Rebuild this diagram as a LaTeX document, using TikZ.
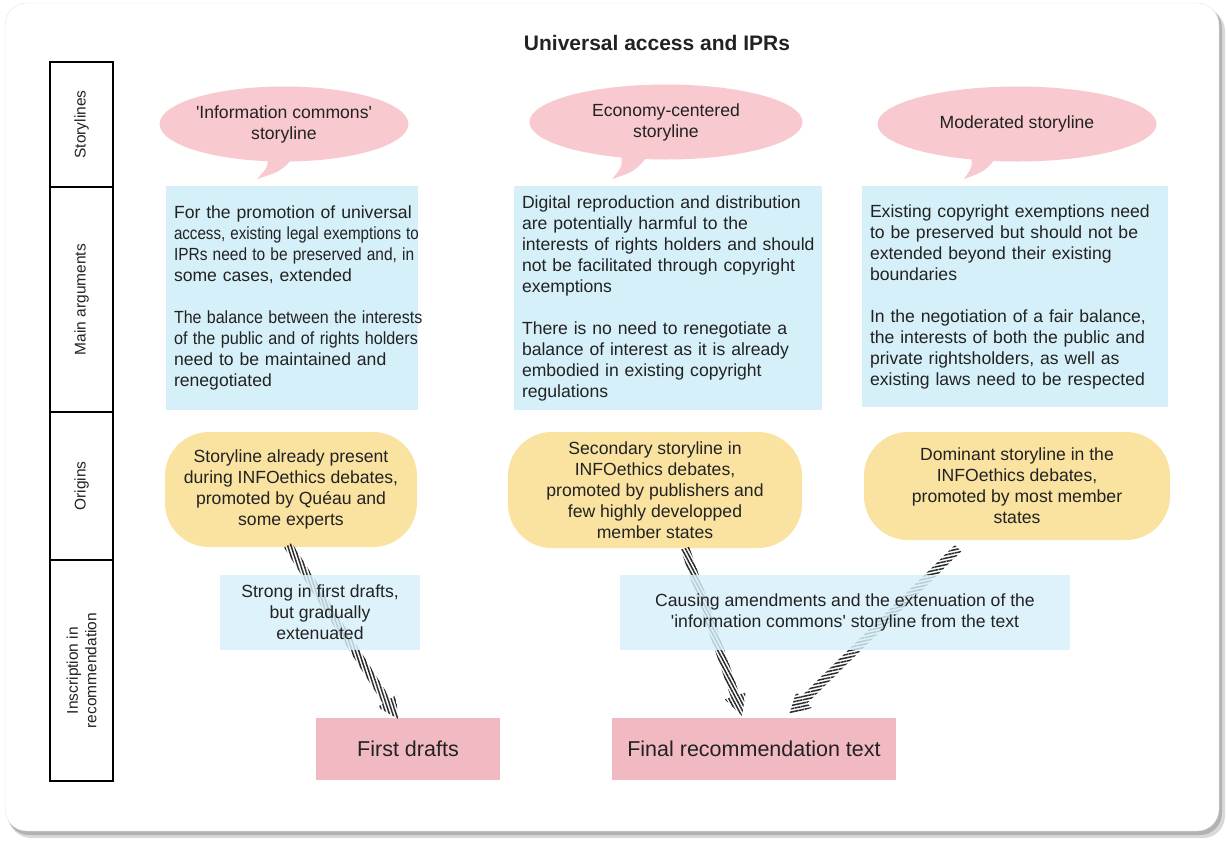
\documentclass[tikz,border=0pt]{standalone}
\usepackage{fontspec}
\usepackage{graphicx}
\setmainfont{Liberation Sans}
\usetikzlibrary{shapes.geometric,calc,patterns.meta}
\definecolor{bubblepink}{HTML}{F8C9CF}
\definecolor{boxpink}{HTML}{F1BAC3}
\definecolor{argblue}{HTML}{D6F0FA}
\definecolor{origyellow}{HTML}{FAE3A0}
\definecolor{txt}{HTML}{222222}
\definecolor{hatchcol}{HTML}{2A2A2A}
\newcommand{\myq}{\textquotesingle}
\newcommand{\sqz}[2]{\scalebox{#1}[1]{#2}}
\newcommand{\hatcharrow}[3]{%
  \coordinate (hc) at ($(#2)!21pt!(#1)$);
  \fill[pattern={Lines[angle=#3,distance=3.2pt,line width=1.5pt]},pattern color=hatchcol]
    ($(#1)!4.5pt!90:(#2)$) -- ($(hc)!4.5pt!90:(#2)$) -- ($(hc)!11pt!90:(#2)$) -- (#2)
    -- ($(hc)!11pt!-90:(#2)$) -- ($(hc)!4.5pt!-90:(#2)$) -- ($(#1)!4.5pt!-90:(#2)$) -- cycle;}
\begin{document}
\begin{tikzpicture}[x=1pt,y=-1pt,
  every node/.style={text=txt},
  body/.style={font=\fontsize{17.6}{21}\selectfont},
  lane/.style={draw=black,line width=1.3pt,inner sep=0pt,minimum height=63pt,align=center,
    font=\fontsize{15.5}{18.5}\selectfont,rotate=90},
  bubble/.style={ellipse,fill=bubblepink,inner sep=0pt,align=center,body},
  argbox/.style={rectangle,fill=argblue,inner xsep=8pt,inner ysep=0pt,align=left,body},
  origin/.style={rectangle,rounded corners=44pt,fill=origyellow,inner sep=0pt,align=center,body},
  insc/.style={rectangle,fill=argblue,fill opacity=0.82,text opacity=1,inner sep=0pt,align=center,body},
  result/.style={rectangle,fill=boxpink,inner sep=0pt,minimum height=62pt,font=\fontsize{21.5}{25}\selectfont},
  tail/.style={fill=bubblepink}]
\useasboundingbox (0,0) rectangle (1227,841);
% frame
\fill[gray!30,rounded corners=22pt] (9,9) rectangle (1225,838);
\fill[gray!60,rounded corners=22pt] (7,6) rectangle (1222,835);
\fill[white,rounded corners=22pt] (5,3) rectangle (1219,831);
\draw[gray!20,rounded corners=22pt] (5,3) rectangle (1219,831);
% title
\node[font=\bfseries\fontsize{21}{25}\selectfont] (title) at (657,43) {Universal access and IPRs};
% lanes
\node[lane,minimum width=125pt] (l1) at (81.5,124.5) {Storylines};
\node[lane,minimum width=225pt] (l2) at (81.5,299.5) {Main arguments};
\node[lane,minimum width=148pt] (l3) at (81.5,486) {Origins};
\node[lane,minimum width=221pt] (l4) at (81.5,670.5) {Inscription in\\recommendation};
% bubbles
\fill[tail] (266,150) .. controls (269,166) .. (257,179) .. controls (282,171) .. (300,150) -- cycle;
\fill[tail] (620,150) .. controls (623,166) .. (612,179) .. controls (636,171) .. (652,150) -- cycle;
\fill[tail] (970,150) .. controls (973,166) .. (964,179) .. controls (986,171) .. (1002,150) -- cycle;
\node[bubble,minimum width=232pt,minimum height=75pt] (b1) at (284,124) {\myq Information commons\myq\\storyline};
\node[bubble,minimum width=273pt,minimum height=75pt] (b2) at (666,122) {Economy-centered\\storyline};
\node[bubble,minimum width=279pt,minimum height=75pt] (b3) at (1017,124) {Moderated storyline};
% arguments
\node[argbox,text width=236pt,minimum height=224pt] (m1) at (292,298) {\mbox{For the promotion of universal}\\\sqz{0.86}{access, existing legal exemptions to}\\\sqz{0.88}{IPRs need to be preserved and, in}\\\mbox{some cases, extended}\\[21pt]\sqz{0.91}{The balance between the interests}\\\sqz{0.92}{of the public and of rights holders}\\\mbox{need to be maintained and}\\renegotiated};
\node[argbox,text width=292pt,minimum height=224pt] (m2) at (668,298) {\mbox{Digital reproduction and distribution}\\\mbox{are potentially harmful to the}\\\mbox{interests of rights holders and should}\\\mbox{not be facilitated through copyright}\\exemptions\\[21pt]\mbox{There is no need to renegotiate a}\\\mbox{balance of interest as it is already}\\\mbox{embodied in existing copyright}\\regulations};
\node[argbox,text width=290pt,minimum height=221pt] (m3) at (1015,296.5) {\mbox{Existing copyright exemptions need}\\\mbox{to be preserved but should not be}\\\mbox{extended beyond their existing}\\boundaries\\[21pt]\mbox{In the negotiation of a fair balance,}\\\mbox{the interests of both the public and}\\\mbox{private rightsholders, as well as}\\\mbox{existing laws need to be respected}};
% origins
\node[origin,minimum width=252pt,minimum height=115pt] (o1) at (291,489.5) {Storyline already present\\during INFOethics debates,\\promoted by Quéau and\\some experts};
\node[origin,minimum width=294pt,minimum height=116pt] (o2) at (655,490) {Secondary storyline in\\INFOethics debates,\\promoted by publishers and\\few highly developped\\member states};
\node[origin,minimum width=306pt,minimum height=108pt] (o3) at (1017,486) {Dominant storyline in the\\INFOethics debates,\\promoted by most member\\states};
% results
\node[result,minimum width=184pt] (fd) at (408,749) {First drafts};
\node[result,minimum width=284pt] (fr) at (754,749) {Final recommendation text};
% arrows
\coordinate (s1) at ($(o1.south)+(-3,-2)$);
\coordinate (e1) at ($(fd.north)+(-10,1)$);
\coordinate (s2) at ($(o2.south)+(30,0)$);
\coordinate (e2) at ($(fr.north)+(-12,-2)$);
\coordinate (s3) at ($(o3.south)+(-59,8)$);
\coordinate (e3) at ($(fr.north)+(35,-3)$);
\hatcharrow{s1}{e1}{-72}
\hatcharrow{s2}{e2}{-62}
\hatcharrow{s3}{e3}{12}
% inscriptions (over the arrows)
\node[insc,minimum width=200pt,minimum height=75pt] (i1) at (320,612.5) {Strong in first drafts,\\but gradually\\extenuated};
\node[insc,minimum width=450pt,minimum height=75pt] (i2) at (845,612.5) {Causing amendments and the extenuation of the\\\myq information commons\myq{} storyline from the text};
\end{tikzpicture}
\end{document}
